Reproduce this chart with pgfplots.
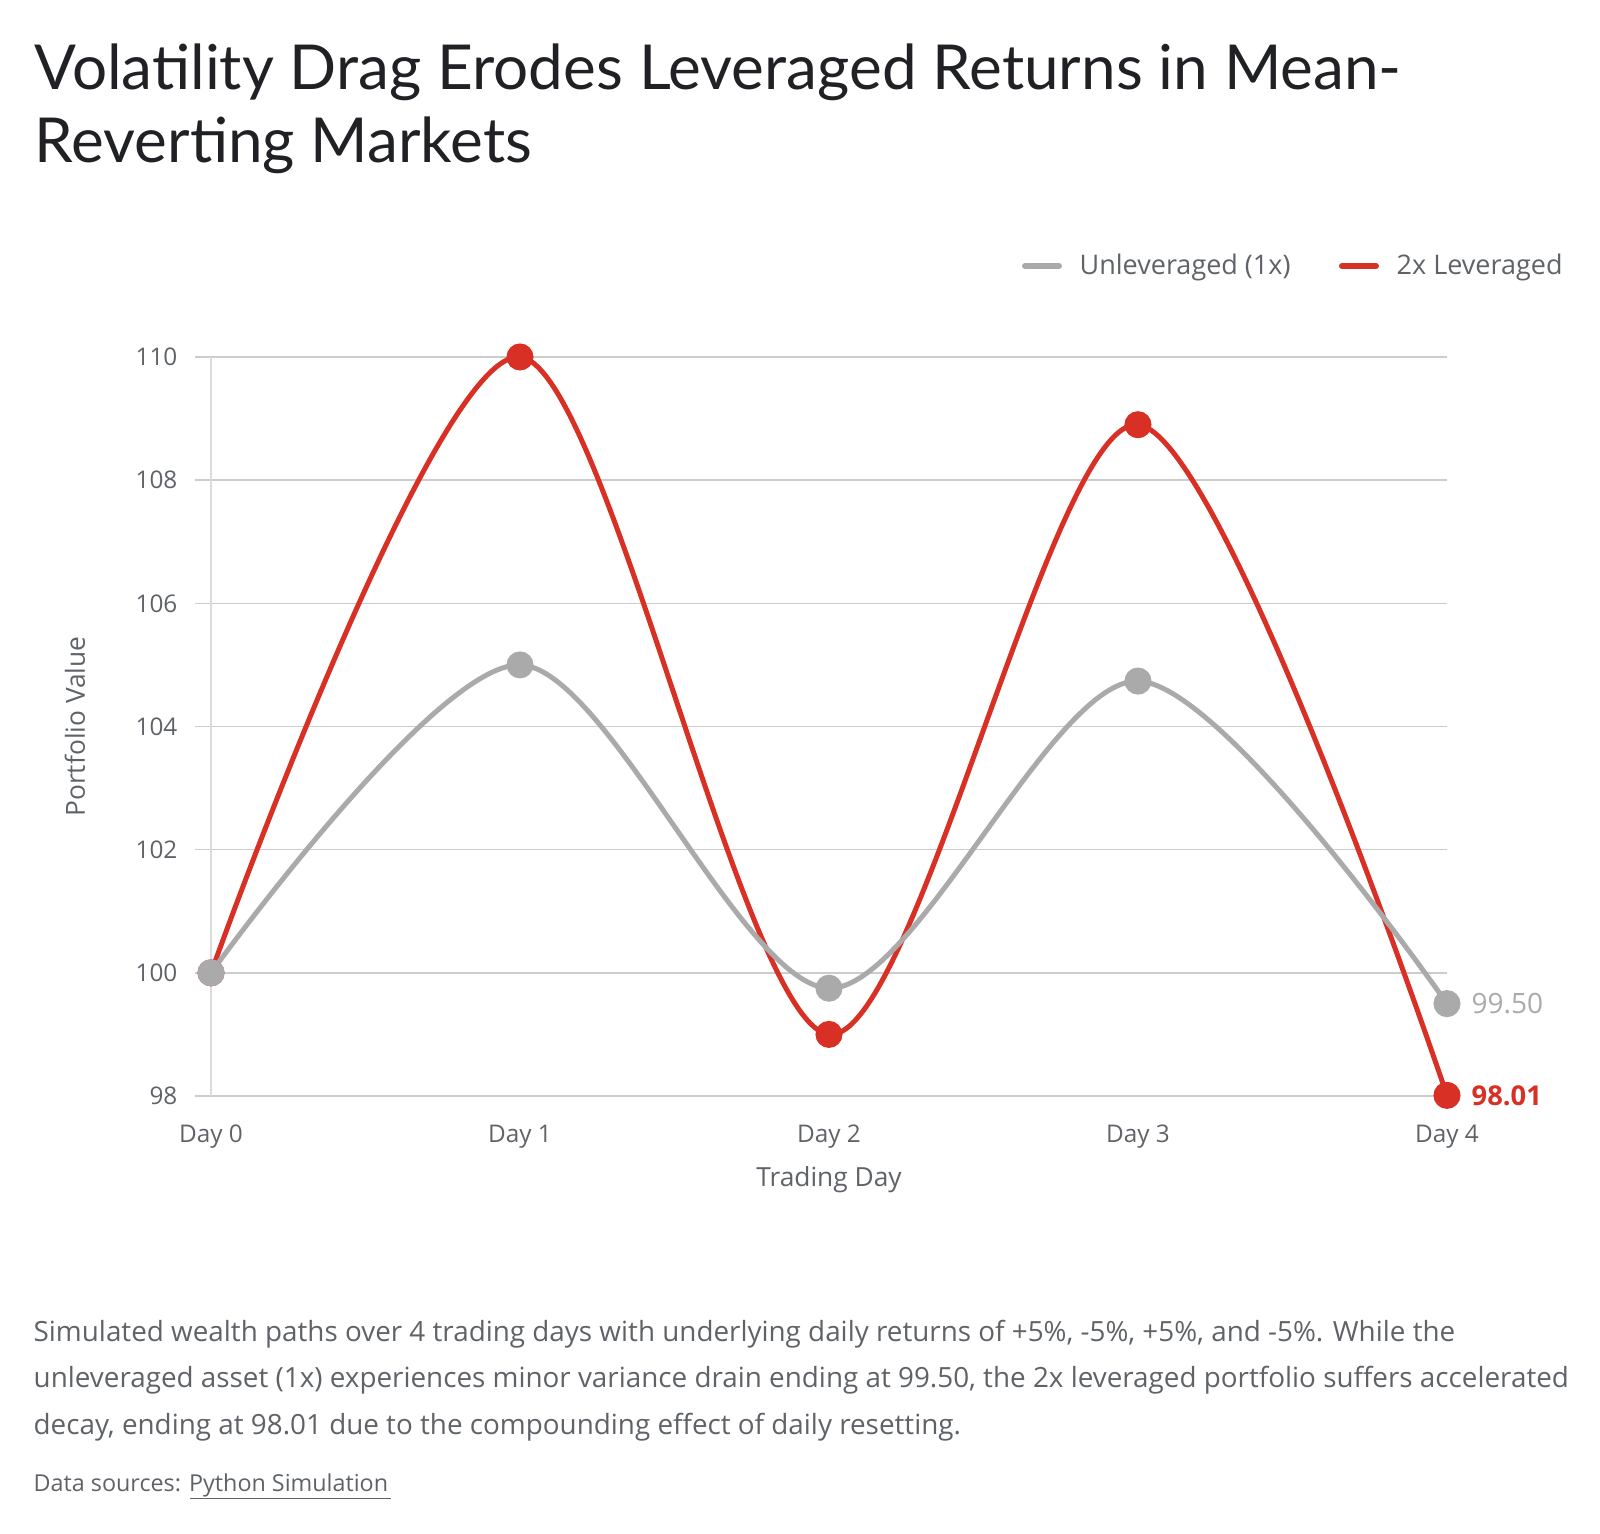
\documentclass[border=0pt]{standalone}
\usepackage{fontspec}
\setmainfont{Open Sans}
\newfontfamily\titlefont{Lato}
\usepackage{pgfplots}
\pgfplotsset{compat=1.18}
\definecolor{lev}{HTML}{D93025}
\definecolor{unlev}{HTML}{AAAAAA}
\definecolor{ink}{HTML}{202124}
\definecolor{sub}{HTML}{5F6368}
\definecolor{gridc}{HTML}{CCCCCC}

\begin{document}
\begin{tikzpicture}[x=1pt,y=1pt]
\path[use as bounding box] (0,0) rectangle (480,460.2);

% title
\node[anchor=base west, inner sep=0, text=ink, font=\titlefont\fontsize{18.6}{22}\selectfont] at (10.2,433.2) {Volatility Drag Erodes Leveraged Returns in Mean-};
\node[anchor=base west, inner sep=0, text=ink, font=\titlefont\fontsize{18.6}{22}\selectfont] at (10.2,411.3) {Reverting Markets};

% legend
\draw[unlev, line width=1.8pt, line cap=round] (307.5,380.4) -- (317.7,380.4);
\node[anchor=base west, inner sep=0, text=sub, font=\fontsize{8.1}{9.5}\selectfont] at (323.7,377.7) {Unleveraged (1x)};
\draw[lev, line width=1.8pt, line cap=round] (402.6,380.4) -- (412.8,380.4);
\node[anchor=base west, inner sep=0, text=sub, font=\fontsize{8.1}{9.5}\selectfont] at (418.8,377.7) {2x Leveraged};

\begin{axis}[
  at={(63.3pt,131.4pt)}, anchor=south west,
  scale only axis, width=370.8pt, height=221.7pt,
  xmin=0, xmax=4, ymin=98, ymax=110,
  clip=false,
  axis line style={draw=none},
  xtick={0,1,2,3,4},
  xticklabels={Day 0,Day 1,Day 2,Day 3,Day 4},
  ytick={98,100,...,110},
  ytick pos=left,
  tick align=outside,
  xtick style={draw=none},
  ytick style={color=gridc, line width=0.45pt},
  major tick length=4.8pt,
  ymajorgrids,
  major grid style={color=gridc, line width=0.45pt},
  extra x ticks={0},
  extra x tick labels={},
  extra x tick style={xmajorgrids, major grid style={color=gridc!70, line width=0.45pt}},
  /pgf/number format/assume math mode=true,
  ticklabel style={text=sub, font=\fontsize{7.3}{8.7}\selectfont, inner sep=0pt},
  yticklabel style={anchor=east, xshift=-5.1pt},
  xticklabel style={anchor=north, yshift=-3.8pt},
  xlabel={Trading Day},
  ylabel={Portfolio Value},
  label style={text=sub, font=\fontsize{7.9}{9.4}\selectfont},
  xlabel style={at={(axis description cs:0.5,0)}, anchor=center, yshift=-25.2pt},
  ylabel style={at={(axis description cs:-0.110,0.5)}, anchor=center},
]
\addplot[lev, line width=1.5pt, smooth, mark=*, mark size=3.3pt, mark options={draw=none, fill=lev}]
  coordinates {(0,100) (1,110) (2,99) (3,108.9) (4,98.01)};
\addplot[unlev, line width=1.5pt, smooth, mark=*, mark size=3.3pt, mark options={draw=none, fill=unlev}]
  coordinates {(0,100) (1,105) (2,99.75) (3,104.7375) (4,99.50)};
\node[anchor=west, inner sep=0, xshift=7.2pt, text=unlev, font=\fontsize{8.4}{9.8}\selectfont] at (axis cs:4,99.50) {99.50};
\node[anchor=west, inner sep=0, xshift=7.2pt, text=lev, font=\bfseries\fontsize{8.2}{9.8}\selectfont] at (axis cs:4,98.01) {98.01};
\end{axis}

% caption
\node[anchor=base west, inner sep=0, text=sub, font=\fontsize{8.35}{9.8}\selectfont] at (9.9,57.6) {Simulated wealth paths over 4 trading days with underlying daily returns of +5\%, -5\%, +5\%, and -5\%. While the};
\node[anchor=base west, inner sep=0, text=sub, font=\fontsize{8.35}{9.8}\selectfont] at (9.9,43.8) {unleveraged asset (1x) experiences minor variance drain ending at 99.50, the 2x leveraged portfolio suffers accelerated};
\node[anchor=base west, inner sep=0, text=sub, font=\fontsize{8.35}{9.8}\selectfont] at (9.9,29.7) {decay, ending at 98.01 due to the compounding effect of daily resetting.};
\node[anchor=base west, inner sep=0, text=sub, font=\fontsize{7}{8}\selectfont] at (9.9,12.6) {Data sources: Python Simulation};
% link underline
\draw[sub, line width=0.4pt] (57.1,10.6) -- (117.2,10.6);
\end{tikzpicture}
\end{document}
